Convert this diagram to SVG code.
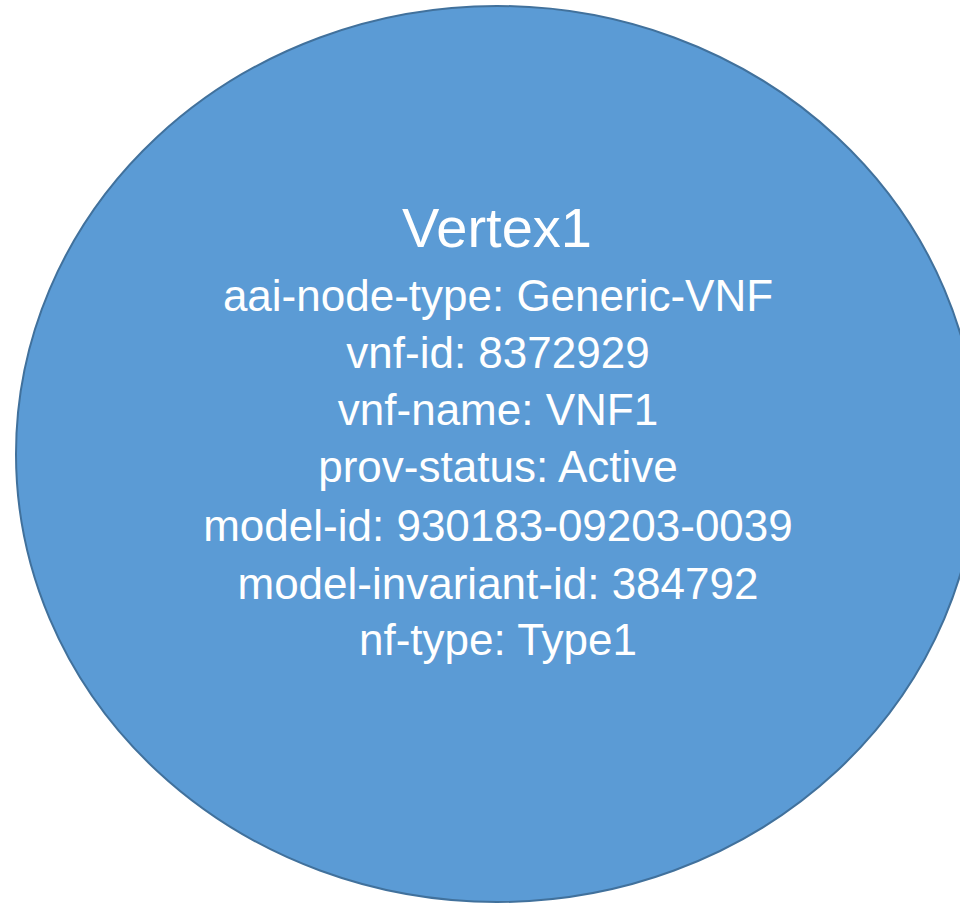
<svg xmlns="http://www.w3.org/2000/svg" width="960" height="904" viewBox="0 0 960 904">
<style>
.shape{fill:#5B9BD5;stroke:#41719C;stroke-width:2}
.t{font-family:"Liberation Sans",Arial,sans-serif;fill:#FFFFFF;text-anchor:middle}
.title{font-size:56px}
.attr{font-size:44px}
</style>
<rect width="960" height="904" fill="#FFFFFF"/>
<g id="vertex1">
<ellipse class="shape" cx="497" cy="454" rx="481" ry="448"/>
<text class="t title" x="497" y="247">Vertex1</text>
<text class="t attr" x="498" y="311">aai-node-type: Generic-VNF</text>
<text class="t attr" x="498" y="368">vnf-id: 8372929</text>
<text class="t attr" x="498" y="425">vnf-name: VNF1</text>
<text class="t attr" x="498" y="482">prov-status: Active</text>
<text class="t attr" x="498" y="541">model-id: 930183-09203-0039</text>
<text class="t attr" x="498" y="599">model-invariant-id: 384792</text>
<text class="t attr" x="498" y="655">nf-type: Type1</text>
</g>
<g id="connectors"></g>
</svg>
